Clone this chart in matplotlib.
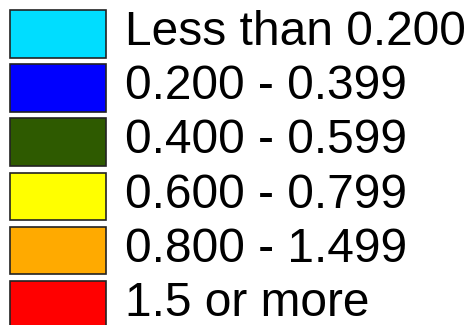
import matplotlib
matplotlib.use("Agg")
import matplotlib.pyplot as plt
from matplotlib.patches import Rectangle

labels = ["Less than 0.200", "0.200 - 0.399", "0.400 - 0.599",
          "0.600 - 0.799", "0.800 - 1.499", "1.5 or more"]
colors = ["#00DDFF", "#0000FF", "#2E5A00", "#FFFF00", "#FFAA00", "#FF0000"]

W, H = 473, 325
fig = plt.figure(figsize=(W / 100, H / 100), dpi=100)
ax = fig.add_axes([0, 0, 1, 1])
ax.set_xlim(0, W)
ax.set_ylim(H, 0)
ax.axis("off")

top0, step, bh = 10, 54.2, 47.5
for i, (lab, col) in enumerate(zip(labels, colors)):
    y = top0 + i * step
    ax.add_patch(Rectangle((10, y), 96, bh, facecolor=col, edgecolor="#222222", lw=1.2))
    ax.text(125, y + 35, lab, fontsize=34.5, family="Liberation Sans",
            va="baseline", ha="left", color="black")

fig.savefig("out.png", dpi=100, facecolor="white")
